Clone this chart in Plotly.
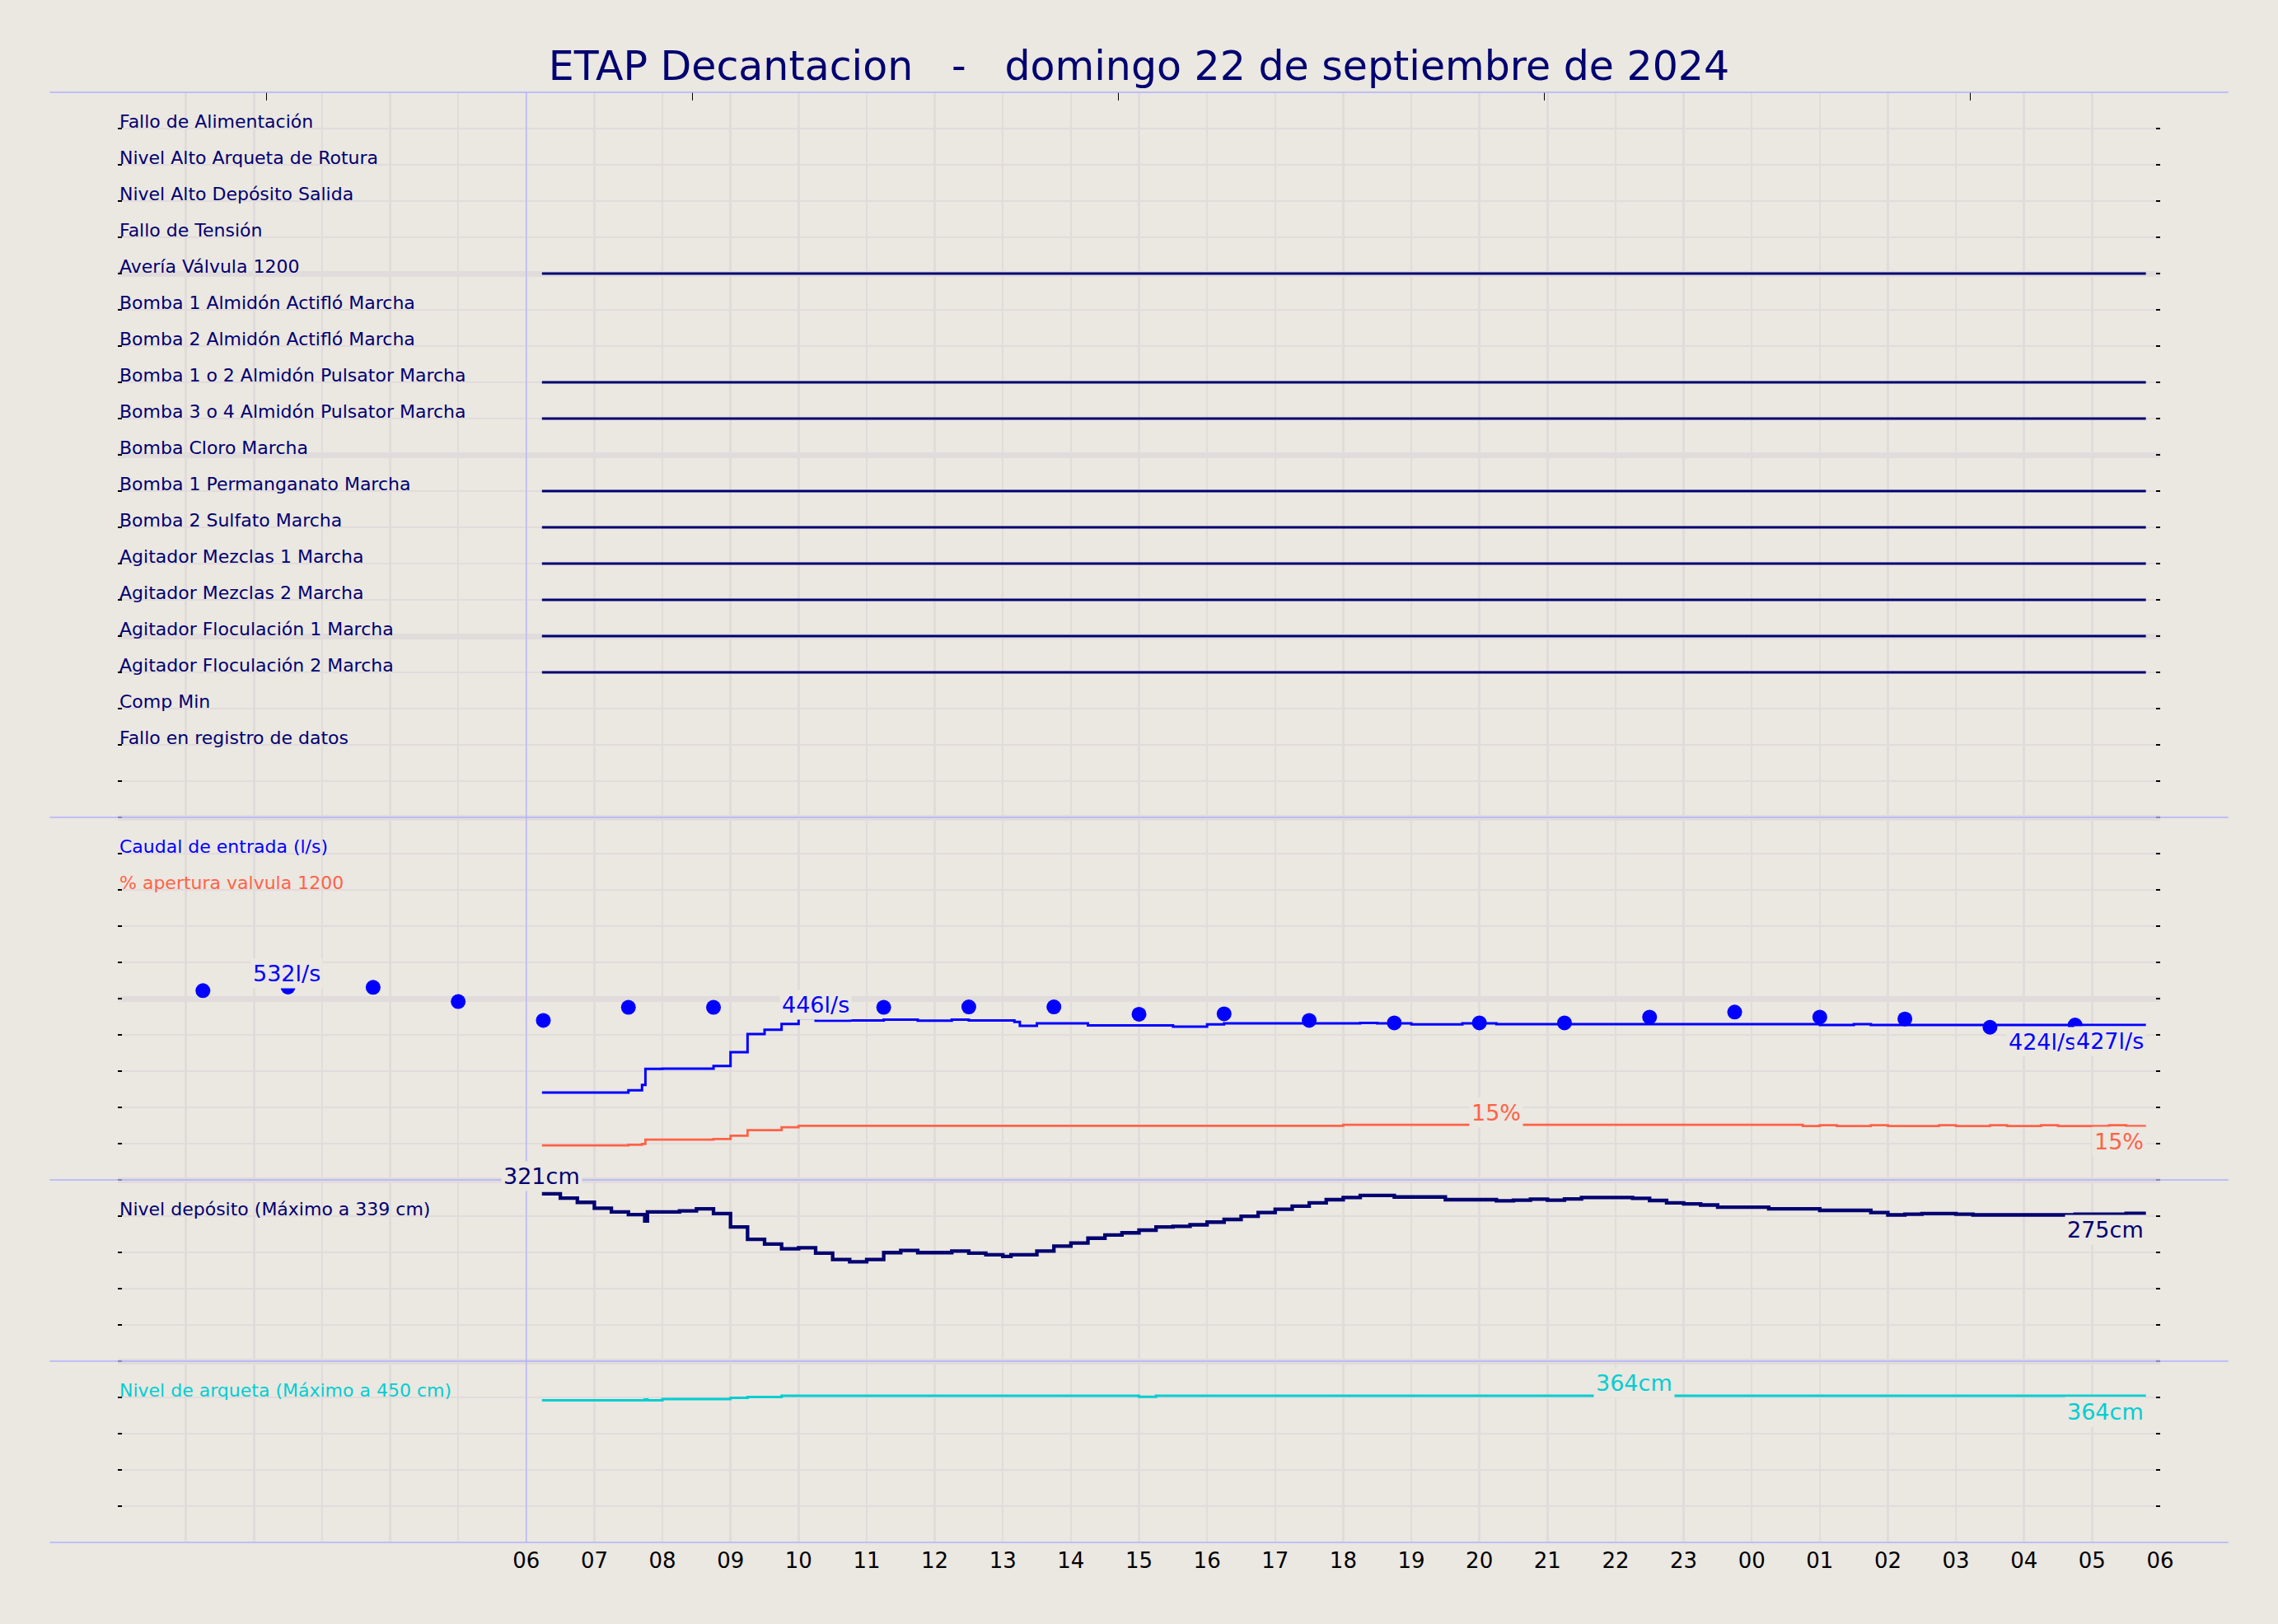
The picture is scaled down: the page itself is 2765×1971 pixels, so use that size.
import plotly.graph_objects as go

# ---------------------------------------------------------------- data
TITLE = "ETAP Decantacion   -   domingo 22 de septiembre de 2024"

# hours since 00:00 of the day shown; bottom labels start at 06
hour_labels = ["06", "07", "08", "09", "10", "11", "12", "13", "14", "15", "16", "17",
               "18", "19", "20", "21", "22", "23", "00", "01", "02", "03", "04", "05", "06"]
first_label_hour = 6
top_tick_hours = [2.18, 8.44, 14.70, 20.95, 27.21]

signal_names = [
    "Fallo de Alimentación", "Nivel Alto Arqueta de Rotura", "Nivel Alto Depósito Salida",
    "Fallo de Tensión", "Avería Válvula 1200", "Bomba 1 Almidón Actifló Marcha",
    "Bomba 2 Almidón Actifló Marcha", "Bomba 1 o 2 Almidón Pulsator Marcha",
    "Bomba 3 o 4 Almidón Pulsator Marcha", "Bomba Cloro Marcha",
    "Bomba 1 Permanganato Marcha", "Bomba 2 Sulfato Marcha", "Agitador Mezclas 1 Marcha",
    "Agitador Mezclas 2 Marcha", "Agitador Floculación 1 Marcha",
    "Agitador Floculación 2 Marcha", "Comp Min", "Fallo en registro de datos",
]
signal_on = [0, 0, 0, 0, 1, 0, 0, 1, 1, 0, 1, 1, 1, 1, 1, 1, 0, 0]
data_start = 6.23
data_end = 29.79

caudal_t = [6.23, 7.50, 7.70, 7.75, 8.00, 8.75, 9.00, 9.25, 9.50, 9.75, 10.00, 10.25,
            10.75, 11.25, 11.75, 12.25, 12.50, 13.17, 13.25, 13.50, 14.25, 15.50, 16.00,
            16.25, 18.25, 18.50, 19.00, 19.75, 20.25, 25.00, 25.50, 25.75]
caudal_v = [241, 247, 262, 306, 307, 314, 352, 402, 414, 430, 446, 439,
            440, 442, 439, 442, 440, 436, 425, 432, 426, 423, 429,
            432, 433, 432, 429, 432, 429.5, 427, 429.5, 427]

caudal_ref_t = [1.25, 2.5, 3.75, 5.0, 6.25, 7.5, 8.75, 10.0, 11.25, 12.5, 13.75, 15.0,
                16.25, 17.5, 18.75, 20.0, 21.25, 22.5, 23.75, 25.0, 26.25, 27.5, 28.75]
caudal_ref_v = [522, 532, 531, 492, 440, 476, 476, 476, 476, 477, 477, 457,
                458, 440, 433, 433, 433, 449, 463, 449, 444, 421, 427]

apertura_t = [6.23, 7.50, 7.70, 7.75, 8.75, 9.00, 9.25, 9.75, 10.00, 18.00, 24.75,
              25.00, 25.25, 25.75, 26.00, 26.75, 27.00, 27.50, 27.75, 28.25, 28.50,
              29.25, 29.50]
apertura_v = [9.5, 9.7, 9.9, 11.1, 11.3, 12.2, 13.7, 14.5, 14.9, 15.2, 14.85,
              15.08, 14.85, 15.08, 14.85, 15.08, 14.85, 15.08, 14.85, 15.08, 14.85,
              15.08, 14.85]

deposito_t = [6.23, 6.50, 6.75, 7.00, 7.25, 7.50, 7.74, 7.78, 8.25, 8.50, 8.75, 9.00,
              9.25, 9.50, 9.75, 10.00, 10.25, 10.50, 10.75, 11.00, 11.25, 11.50, 11.75,
              12.25, 12.50, 12.75, 13.00, 13.12, 13.50, 13.75, 14.00, 14.25, 14.50,
              14.75, 15.00, 15.25, 15.50, 15.75, 16.00, 16.25, 16.50, 16.75, 17.00,
              17.25, 17.50, 17.75, 18.00, 18.25, 18.75, 19.50, 20.25, 20.50, 20.75,
              21.00, 21.25, 21.50, 22.25, 22.50, 22.75, 23.00, 23.25, 23.50, 24.25,
              25.00, 25.75, 26.00, 26.25, 26.50, 27.00, 27.25, 28.75, 29.50]
deposito_v = [313, 305, 297, 286, 279, 274, 262, 279, 281, 285, 276, 251,
              228, 219, 210, 212, 202, 190, 186, 190, 203, 207, 203,
              206, 202, 199, 196, 199, 206, 215, 221, 230, 236,
              240, 245, 251, 252, 255, 260, 265, 271, 278, 284,
              290, 296, 302, 306, 310, 307, 302, 300, 301, 303,
              301, 303.5, 306, 304.5, 300.5, 296, 294, 292, 288, 285,
              282, 278, 273.5, 275, 276, 275, 273.5, 275, 276.3]

arqueta_t = [6.23, 7.74, 7.78, 8.00, 9.00, 9.25, 9.75, 15.00, 15.25]
arqueta_v = [353, 355, 353, 356, 359, 361, 364, 361.5, 364]

section_names = ["Caudal de entrada (l/s)", "% apertura valvula 1200",
                 "Nivel depósito (Máximo a 339 cm)", "Nivel de arqueta (Máximo a 450 cm)"]

# value labels: text, series, x (hours), value, placement
label_text = ["532l/s", "446l/s", "424l/s", "427l/s", "15%", "15%", "321cm", "275cm", "364cm", "364cm"]
label_series = ["caudal", "caudal", "caudal", "caudal", "apertura", "apertura",
                "deposito", "deposito", "arqueta", "arqueta"]
label_x = [2.48, 10.25, 28.27, 29.79, 20.25, 29.79, 6.23, 29.79, 22.27, 29.79]
label_value = [532, 446, 424, 427, 15, 15, 321, 275, 364, 364]
label_place = ["above", "above", "below", "below_end", "above", "below_end",
               "above", "below_end", "above", "below_end"]

# ---------------------------------------------------------------- style
BG = "#ebe7e1"
GRID = "#e1dcdb"
SECTION = "#b0b0ff"
NAVY = "#000070"
BLUE = "#0000ff"
TOMATO = "#ff6347"
TURQ = "#00ced1"
FONT = "DejaVu Sans"

Y_TOP = 40           # main row axis: 0..40
sections = [20, 10, 5]
# series -> (axis, base row, units per row, colour, width)
series_cfg = {
    "caudal": ("y2", 10, 100.0, BLUE, 3),
    "apertura": ("y3", 10, 10.0, TOMATO, 2.8),
    "deposito": ("y4", 5, 339 / 5.0, NAVY, 4.3),
    "arqueta": ("y5", 0, 450 / 5.0, TURQ, 3),
}
section_label_rows = [19, 18, 9, 4]
section_label_colors = [BLUE, TOMATO, NAVY, TURQ]

fig = go.Figure()

# digital signals
for i, (name, on) in enumerate(zip(signal_names, signal_on)):
    row = Y_TOP - 1 - i
    if on:
        fig.add_trace(go.Scatter(x=[data_start, data_end], y=[row, row], mode="lines",
                                 line=dict(color=NAVY, width=3), hoverinfo="skip",
                                 showlegend=False))


def step_xy(t, v):
    return list(t) + [data_end], list(v) + [v[-1]]


series_data = {
    "caudal": (caudal_t, caudal_v),
    "apertura": (apertura_t, apertura_v),
    "deposito": (deposito_t, deposito_v),
    "arqueta": (arqueta_t, arqueta_v),
}
for key in ["caudal", "apertura", "deposito", "arqueta"]:
    ax, base, scale, color, width = series_cfg[key]
    xs, ys = step_xy(*series_data[key])
    fig.add_trace(go.Scatter(x=xs, y=ys, yaxis=ax, mode="lines", line_shape="hv",
                             line=dict(color=color, width=width), showlegend=False,
                             hoverinfo="skip"))
    if key == "caudal":
        fig.add_trace(go.Scatter(x=caudal_ref_t, y=caudal_ref_v, yaxis=ax, mode="markers",
                                 marker=dict(color=BLUE, size=18), showlegend=False,
                                 hoverinfo="skip"))

# invisible trace to activate the top tick axis
fig.add_trace(go.Scatter(x=[top_tick_hours[0]], y=[0], xaxis="x2", mode="markers",
                         marker=dict(opacity=0), showlegend=False, hoverinfo="skip"))

annotations = []
for i, name in enumerate(signal_names):
    annotations.append(dict(text=name, x=0, y=Y_TOP - 1 - i, xref="x", yref="y",
                            xanchor="left", yanchor="bottom", yshift=-6, showarrow=False,
                            font=dict(family=FONT, size=22, color=NAVY)))
for name, row, col in zip(section_names, section_label_rows, section_label_colors):
    annotations.append(dict(text=name, x=0, y=row, xref="x", yref="y",
                            xanchor="left", yanchor="bottom", yshift=-6, showarrow=False,
                            font=dict(family=FONT, size=22, color=col)))
for txt, ser, lx, lv, pl in zip(label_text, label_series, label_x, label_value, label_place):
    ax, base, scale, color, width = series_cfg[ser]
    a = dict(text=txt, x=lx, y=lv, xref="x", yref=ax, showarrow=False,
             font=dict(family=FONT, size=27, color=color), bgcolor=BG, borderpad=2,
             yanchor="middle")
    if pl == "above":
        a.update(xanchor="center", yshift=16)
    elif pl == "below":
        a.update(xanchor="center", yshift=-19)
    else:
        a.update(xanchor="right", yshift=-19)
    annotations.append(a)

x_min, x_max = 0, 30
shapes = []
for yv in [Y_TOP] + sections + [0]:
    shapes.append(dict(type="line", xref="paper", yref="paper",
                       x0=-1 / (x_max - x_min), x1=1 + 1 / (x_max - x_min),
                       y0=yv / Y_TOP, y1=yv / Y_TOP, layer="above",
                       line=dict(color=SECTION, width=1.5)))
shapes.append(dict(type="line", xref="x", yref="paper", x0=first_label_hour,
                   x1=first_label_hour, y0=0, y1=1, layer="above",
                   line=dict(color=SECTION, width=1.2)))

tick_vals = list(range(x_min, x_max + 1))
tick_text = [""] * first_label_hour + hour_labels

yaxis_common = dict(overlaying="y", visible=False, showgrid=False, zeroline=False,
                    fixedrange=True)
layout_axes = {}
for key, (ax, base, scale, color, width) in series_cfg.items():
    name = "yaxis" + ax[1:]
    layout_axes[name] = dict(yaxis_common, range=[(0 - base) * scale, (Y_TOP - base) * scale])

fig.update_layout(
    width=2765, height=1971,
    margin=dict(l=143, r=143, t=112, b=99, pad=0),
    paper_bgcolor=BG, plot_bgcolor=BG,
    template="none",
    title=dict(text=TITLE, x=0.5, xanchor="center", y=1 - 80 / 1971, yanchor="middle",
               yref="container", font=dict(family=FONT, size=49, color=NAVY)),
    font=dict(family=FONT),
    showlegend=False,
    xaxis=dict(range=[x_min, x_max], tickmode="array", tickvals=tick_vals,
               ticktext=tick_text, ticks="", showgrid=True, gridcolor=GRID, gridwidth=2.5,
               zeroline=False, showline=False, automargin=False, ticklabelstandoff=4,
               tickfont=dict(family=FONT, size=26, color="black")),
    xaxis2=dict(range=[x_min, x_max], overlaying="x", side="top", tickmode="array",
                tickvals=top_tick_hours, ticks="inside", ticklen=10, tickwidth=1,
                tickcolor="black", showticklabels=False, showgrid=False, zeroline=False,
                showline=False, automargin=False),
    yaxis=dict(range=[0, Y_TOP], tickmode="linear", tick0=0, dtick=5, ticks="inside",
               ticklen=5, tickwidth=2, tickcolor="black", mirror="ticks",
               showticklabels=False, showgrid=True, gridcolor=GRID, gridwidth=7,
               zeroline=False, showline=False, automargin=False,
               minor=dict(dtick=1, tick0=0, ticks="inside", ticklen=5, tickwidth=2,
                          tickcolor="black", showgrid=True, gridcolor=GRID, gridwidth=2.5)),
    annotations=annotations,
    shapes=shapes,
    **layout_axes,
)

fig.write_html("out.html",
               config={"displayModeBar": False, "staticPlot": True},
               post_script="document.body.style.margin='0px';"
                           "document.body.style.overflow='hidden';"
                           "document.body.style.background='" + BG + "';")
